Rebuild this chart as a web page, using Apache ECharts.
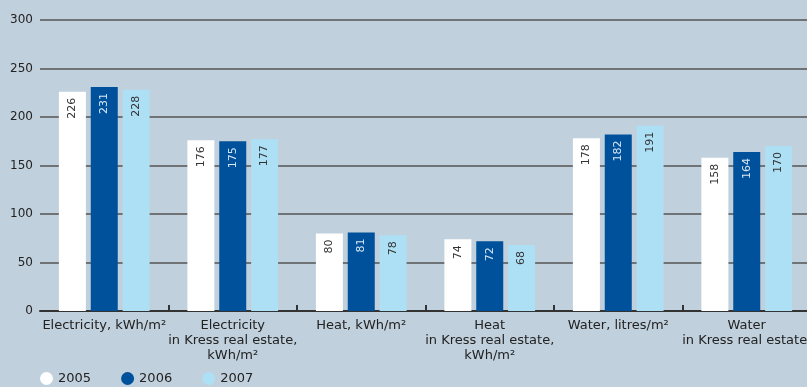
<!DOCTYPE html>
<html><head><meta charset="utf-8">
<script src="https://cdn.jsdelivr.net/npm/echarts@6/dist/echarts.min.js"></script>
<style>html,body{margin:0;padding:0;background:#c0d0dc}#c{width:807px;height:387px}</style>
</head><body><div id="c"></div>
<script>
const categories = ["Electricity, kWh/m²", "Electricity\nin Kress real estate,\nkWh/m²", "Heat, kWh/m²", "Heat\nin Kress real estate,\nkWh/m²", "Water, litres/m²", "Water\nin Kress real estate,"];
const years = ["2005", "2006", "2007"];
const v2005 = [226, 176, 80, 74, 178, 158];
const v2006 = [231, 175, 81, 72, 182, 164];
const v2007 = [228, 177, 78, 68, 191, 170];
const colors = ["#ffffff", "#00519b", "#addff5"];
const labelColors = ["#333333", "#d8e8f4", "#333333"];
const font = "DejaVu Sans";
const chart = echarts.init(document.getElementById('c'));
const mk = (name, data, i) => ({
  name, type: 'bar', data, barWidth: 27, barGap: '18%',
  itemStyle: {color: colors[i]},
  label: {show: true, position: 'insideTop', rotate: 90, align: 'right', verticalAlign: 'middle', distance: 6,
    color: labelColors[i], fontSize: 11, fontFamily: font}
});
chart.setOption({
  backgroundColor: '#c0d0dc',
  animation: false,
  textStyle: {fontFamily: font},
  grid: {left: 40, top: 20, width: 771, bottom: 76, containLabel: false, outerBoundsMode: 'none'},
  legend: {left: 35, top: 367, icon: 'circle', itemWidth: 13, itemHeight: 13, itemGap: 30,
    textStyle: {fontSize: 13, color: '#222', fontFamily: font}, data: years},
  xAxis: {type: 'category', data: categories,
    axisLine: {lineStyle: {color: '#333', width: 2}},
    axisTick: {show: true, inside: true, length: 6, lineStyle: {color: '#333', width: 2},
      interval: function(i){ return i !== 0; }},
    axisLabel: {fontSize: 13, color: '#222', lineHeight: 15, margin: 7, interval: 0, fontFamily: font}},
  yAxis: {type: 'value', min: 0, max: 300, interval: 50,
    axisLine: {show: false}, axisTick: {show: false},
    splitLine: {lineStyle: {color: '#555', width: 1.5}},
    axisLabel: {fontSize: 12, color: '#222', margin: 7, fontFamily: font}},
  series: [mk(years[0], v2005, 0), mk(years[1], v2006, 1), mk(years[2], v2007, 2)]
});
</script></body></html>
